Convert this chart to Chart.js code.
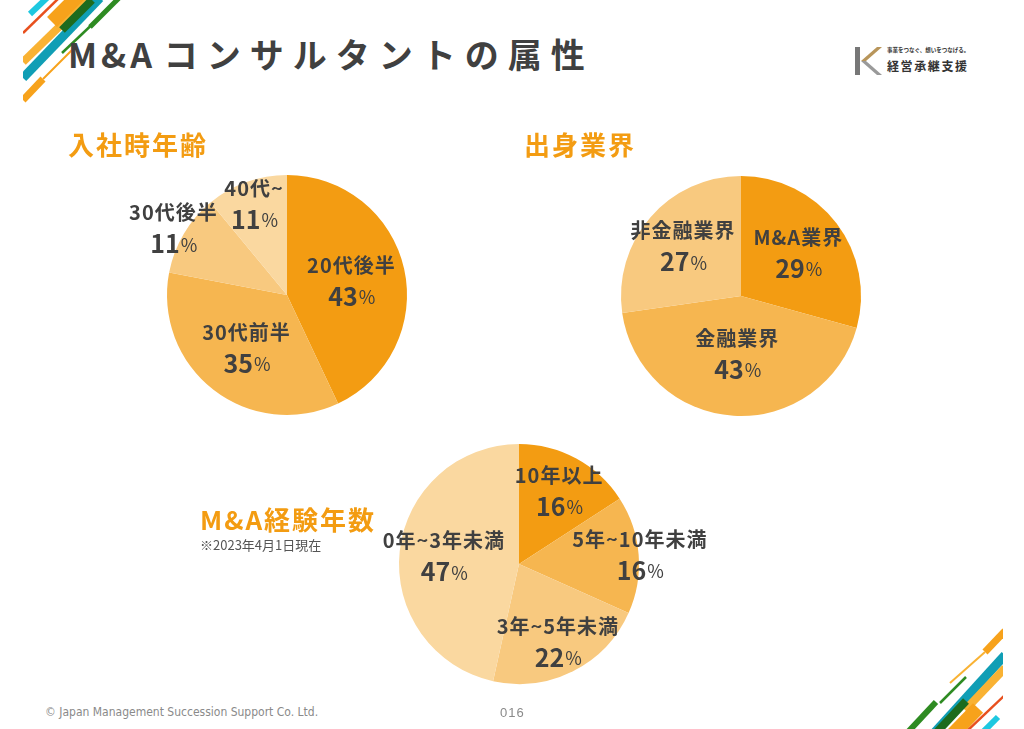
<!DOCTYPE html>
<html lang="ja">
<head>
<meta charset="utf-8">
<title>M&Aコンサルタントの属性</title>
<script src="https://cdn.jsdelivr.net/npm/chart.js@4.4.1/dist/chart.umd.min.js"></script>
<style>
  body { margin:0; width:1024px; height:729px; overflow:hidden; background:#fff;
         font-family:"Noto Sans CJK JP", sans-serif; position:relative; }
  .abs { position:absolute; white-space:nowrap; line-height:1; }
  canvas { position:absolute; }
  #deco { position:absolute; left:0; top:0; }
  #title { left:68px; top:37px; font-size:34px; font-weight:700; color:#404040; }
  #title .lat { letter-spacing:4px; }
  #title .jp { letter-spacing:9px; }
  .head { font-size:26px; font-weight:700; color:#F39C12; letter-spacing:2px; }
  #note { left:200px; top:538px; font-size:13px; color:#555; }
  #copy { left:45px; top:706px; font-size:12px; color:#8a8a8a; font-family:"Liberation Sans Narrow","DejaVu Sans Condensed",sans-serif; }
  #page { left:500px; top:706px; font-size:13px; color:#8a8a8a; font-family:"Liberation Sans Narrow",sans-serif; letter-spacing:1px; }
  #logoSmall { left:887px; top:48px; font-size:5.5px; color:#333; font-weight:700; }
  #logoBig { left:887px; top:60px; font-size:12px; color:#333; font-weight:700; letter-spacing:1.6px; }
</style>
</head>
<body>

<svg id="deco" width="1024" height="729">
  <defs>
    <clipPath id="cl"><rect x="23" y="0" width="120" height="110"/></clipPath>
    <clipPath id="cr"><rect x="880" y="615" width="123" height="114"/></clipPath>
  </defs>
  <g clip-path="url(#cl)" fill="none" stroke-linecap="butt">
    <line x1="30" y1="14" x2="50" y2="-5" stroke="#1EC8E0" stroke-width="6"/>
    <line x1="23" y1="33" x2="62" y2="-5" stroke="#E8501E" stroke-width="2.5"/>
    <line x1="23" y1="62" x2="95" y2="-8" stroke="#F9B233" stroke-width="8"/>
    <line x1="52" y1="22" x2="80" y2="-6" stroke="#F7A21B" stroke-width="14"/>
    <line x1="23" y1="78" x2="100" y2="-2" stroke="#109EB5" stroke-width="9"/>
    <line x1="62" y1="30" x2="92" y2="0" stroke="#1E6B1E" stroke-width="8"/>
    <line x1="62" y1="53" x2="100" y2="17" stroke="#2E8B22" stroke-width="2.5"/>
    <line x1="90" y1="27" x2="120" y2="-3" stroke="#2E8B22" stroke-width="5"/>
    <line x1="23" y1="100" x2="43" y2="79" stroke="#F7A21B" stroke-width="7"/>
    <line x1="43" y1="79" x2="72" y2="50" stroke="#F7A21B" stroke-width="2"/>
  </g>
  <g clip-path="url(#cr)" fill="none" stroke-linecap="butt">
    <line x1="985" y1="652" x2="1005" y2="631" stroke="#F7A21B" stroke-width="7"/>
    <line x1="950" y1="683" x2="985" y2="652" stroke="#F9B233" stroke-width="2"/>
    <line x1="935" y1="732" x2="1005" y2="655" stroke="#109EB5" stroke-width="9"/>
    <line x1="965" y1="710" x2="1005" y2="668" stroke="#F9B233" stroke-width="8"/>
    <line x1="940" y1="703" x2="966" y2="677" stroke="#2E8B22" stroke-width="2.5"/>
    <line x1="908" y1="732" x2="936" y2="702" stroke="#2E8B22" stroke-width="6"/>
    <line x1="937" y1="732" x2="966" y2="701" stroke="#1E6B1E" stroke-width="8"/>
    <line x1="952" y1="735" x2="978" y2="708" stroke="#F7A21B" stroke-width="14"/>
    <line x1="966" y1="732" x2="1005" y2="695" stroke="#E8501E" stroke-width="2.5"/>
    <line x1="983" y1="732" x2="998" y2="717" stroke="#1EC8E0" stroke-width="6"/>
  </g>
  <!-- logo K -->
  <rect x="855" y="47" width="5" height="28" fill="#777"/>
  <polygon points="877,47 882,47 866,61 861,61" fill="#B8955A"/>
  <polygon points="861,61 866,61 882,75 877,75" fill="#9a9a9a"/>
</svg>

<div id="title" class="abs"><span class="lat">M&amp;A</span> <span class="jp">コンサルタントの属性</span></div>
<div id="logoSmall" class="abs">事業をつなぐ、想いをつなげる。</div>
<div id="logoBig" class="abs">経営承継支援</div>

<canvas id="pieAge" width="400" height="400" style="left:87px;top:95px"></canvas>
<canvas id="pieField" width="400" height="400" style="left:541px;top:96px"></canvas>
<canvas id="pieYears" width="400" height="400" style="left:319px;top:364px"></canvas>

<div class="abs head" style="left:68px;top:131px">入社時年齢</div>
<div class="abs head" style="left:524px;top:131px">出身業界</div>
<div class="abs head" style="left:200px;top:506px">M&amp;A経験年数</div>
<div id="note" class="abs">※2023年4月1日現在</div>

<div id="copy" class="abs">© Japan Management Succession Support Co. Ltd.</div>
<div id="page" class="abs">016</div>

<script>
// 入社時年齢
const ageLabels = ["20代後半", "30代前半", "30代後半", "40代~"];
const ageValues = [43, 35, 11, 11];
// 出身業界
const fieldLabels = ["M&A業界", "金融業界", "非金融業界"];
const fieldValues = [29, 43, 27];
// M&A経験年数
const yearLabels = ["10年以上", "5年~10年未満", "3年~5年未満", "0年~3年未満"];
const yearValues = [16, 16, 22, 47];

const orange1 = "#F39C12";
const orange2 = "#F6B650";
const orange3 = "#F8C97F";
const orange4 = "#FAD8A0";

// ラベル描画プラグイン
const sliceLabels = {
  id: "sliceLabels",
  afterDatasetsDraw(chart, args, opts) {
    const ctx = chart.ctx;
    const meta = chart.getDatasetMeta(0);
    const vals = chart.data.datasets[0].data;
    meta.data.forEach((arc, i) => {
      const p = arc.getProps(["x", "y", "startAngle", "endAngle", "outerRadius"], true);
      const mid = (p.startAngle + p.endAngle) / 2;
      const f = opts.dist[i];
      const cx = p.x + Math.cos(mid) * p.outerRadius * f;
      const cy = p.y + Math.sin(mid) * p.outerRadius * f;
      ctx.save();
      ctx.fillStyle = "#404040";
      ctx.textBaseline = "middle";
      ctx.textAlign = "center";
      ctx.letterSpacing = "1px";
      ctx.font = "bold 20px 'Noto Sans CJK JP'";
      ctx.fillText(chart.data.labels[i], cx, cy - 15);
      // 数字 + %
      ctx.letterSpacing = "0px";
      const num = String(vals[i]);
      ctx.font = "bold 25px 'Noto Sans CJK JP'";
      const w1 = ctx.measureText(num).width;
      ctx.font = "18px 'Noto Sans CJK JP'";
      const w2 = ctx.measureText("%").width;
      const x0 = cx - (w1 + w2) / 2;
      ctx.textAlign = "left";
      ctx.font = "bold 25px 'Noto Sans CJK JP'";
      ctx.fillText(num, x0, cy + 16);
      ctx.font = "18px 'Noto Sans CJK JP'";
      ctx.fillText("%", x0 + w1 + 1, cy + 17);
      ctx.restore();
    });
  }
};

function makePie(id, labels, values, colors, dist) {
  const context = document.getElementById(id).getContext("2d");
  return new Chart(context, {
    type: "pie",
    data: {
      labels: labels,
      datasets: [{ data: values, backgroundColor: colors, borderWidth: 0 }]
    },
    options: {
      responsive: false,
      animation: false,
      devicePixelRatio: 1,
      layout: { padding: 80 },
      plugins: {
        legend: { display: false },
        tooltip: { enabled: false },
        sliceLabels: { dist: dist }
      }
    },
    plugins: [sliceLabels]
  });
}

makePie("pieAge", ageLabels, ageValues, [orange1, orange2, orange3, orange4], [0.55, 0.55, 1.1, 0.81]);
makePie("pieField", fieldLabels, fieldValues, [orange1, orange2, orange3], [0.6, 0.48, 0.64]);
makePie("pieYears", yearLabels, yearValues, [orange1, orange2, orange3, orange4], [0.7, 1.01, 0.72, 0.63]);
</script>
</body>
</html>
